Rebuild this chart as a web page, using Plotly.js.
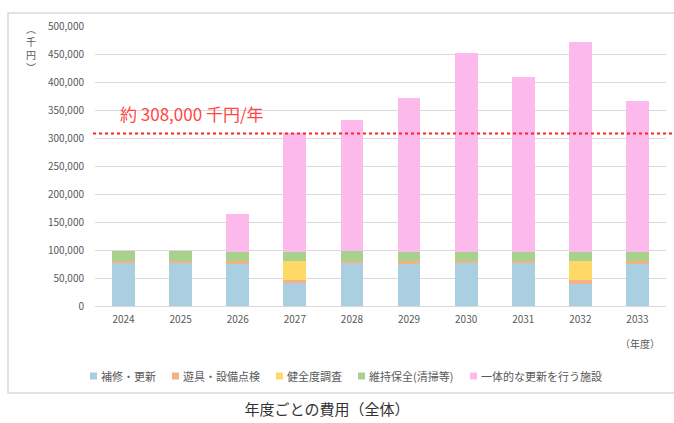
<!DOCTYPE html>
<html>
<head>
<meta charset="utf-8">
<script src="https://cdn.plot.ly/plotly-3.0.1.min.js"></script>
<style>html,body{margin:0;padding:0;background:#fff;}#chart{width:674px;height:423px;}</style>
</head>
<body>
<div id="chart"></div>
<script>
var years = ['2024','2025','2026','2027','2028','2029','2030','2031','2032','2033'];
var repair     = [76000, 76500, 75000, 40500, 76500, 74500, 76500, 76500, 40000, 74500];
var inspection = [4500, 4500, 5000, 6500, 4500, 5000, 4000, 4000, 6500, 5500];
var survey     = [0, 0, 0, 33500, 0, 0, 0, 0, 34000, 0];
var upkeep     = [17500, 17000, 17000, 16500, 17000, 17000, 16000, 16000, 16000, 17000];
var integrated = [0, 0, 68000, 212000, 235000, 274500, 354500, 312500, 374500, 268500];
var seriesNames = ['補修・更新', '遊具・設備点検', '健全度調査', '維持保全(清掃等)', '一体的な更新を行う施設'];
var averageValue = 308000;
var averageLabel = '約 308,000 千円/年';
var yTickVals = [0, 50000, 100000, 150000, 200000, 250000, 300000, 350000, 400000, 450000, 500000];

var colors = ['#a9cfe0', '#f4b183', '#ffd966', '#a9d18e', '#fcb9eb'];
var seriesData = [repair, inspection, survey, upkeep, integrated];

var FONT = '"Noto Sans CJK JP", "Noto Sans", sans-serif';
var traces = seriesData.map(function(vals, i) {
  return {
    type: 'bar', name: seriesNames[i], x: years, y: vals,
    marker: {color: colors[i], line: {width: 0}},
    hoverinfo: 'x+y+name'
  };
});

var L = 95, T = 26, W = 571, H = 280;
function px2x(p){ return (p - L) / W; }
function py2y(p){ return (T + H - p) / H; }

// legend entries (square marker + label), placed like the reference legend row
var legendX = [90, 172, 276, 358, 470];
var legendY = 376;
var shapes = [
  {type: 'rect', xref: 'paper', yref: 'paper', x0: px2x(8), x1: px2x(680), y0: py2y(393), y1: py2y(13),
   line: {color: '#d9d9d9', width: 1.5}, fillcolor: 'rgba(0,0,0,0)', layer: 'below'},
  {type: 'line', xref: 'paper', yref: 'y', x0: px2x(93), x1: px2x(674), y0: averageValue, y1: averageValue,
   line: {color: '#ff2020', width: 2, dash: 'dot'}}
];
var annotations = [
  {text: averageLabel, xref: 'paper', yref: 'paper', x: px2x(118), y: py2y(113), xanchor: 'left', yanchor: 'middle',
   showarrow: false, font: {family: FONT, size: 17, color: '#ff4646'}},
  {text: '︵<br>千<br>円<br>︶', xref: 'paper', yref: 'paper', x: px2x(31), y: py2y(48), xanchor: 'center', yanchor: 'middle',
   showarrow: false, font: {family: FONT, size: 10, color: '#595959'}},
  {text: '（年度）', xref: 'paper', yref: 'paper', x: px2x(662), y: py2y(343), xanchor: 'right', yanchor: 'middle',
   showarrow: false, font: {family: FONT, size: 10, color: '#595959'}}
];
seriesNames.forEach(function(name, i) {
  shapes.push({type: 'rect', xref: 'paper', yref: 'paper',
    x0: px2x(legendX[i]), x1: px2x(legendX[i] + 7), y0: py2y(legendY + 3.5), y1: py2y(legendY - 3.5),
    line: {width: 0}, fillcolor: colors[i]});
  annotations.push({text: name, xref: 'paper', yref: 'paper', x: px2x(legendX[i] + 9), y: py2y(legendY),
    xanchor: 'left', yanchor: 'middle', showarrow: false, font: {family: FONT, size: 11, color: '#595959'}});
});

var layout = {
  width: 674, height: 423,
  margin: {l: L, r: 674 - L - W, t: T, b: 423 - T - H, pad: 0},
  paper_bgcolor: '#ffffff', plot_bgcolor: '#ffffff',
  barmode: 'stack', bargap: 0.6,
  font: {family: FONT, color: '#595959', size: 10},
  title: {text: '年度ごとの費用（全体）', font: {family: FONT, size: 15, color: '#333333'},
          x: 327/674, xanchor: 'center', y: 1 - 410/423, yanchor: 'middle', xref: 'container', yref: 'container'},
  xaxis: {type: 'category', showgrid: false, zeroline: false, showline: false, ticks: '',
          tickfont: {family: FONT, size: 10, color: '#595959'}, ticklabelstandoff: 6, fixedrange: true},
  yaxis: {range: [0, 500000], tickvals: yTickVals, tickformat: ',d', showgrid: true, gridcolor: '#d9d9d9',
          gridwidth: 1, zeroline: true, zerolinecolor: '#d9d9d9', zerolinewidth: 1, showline: false, ticks: '',
          tickfont: {family: FONT, size: 10, color: '#595959'}, ticklabelstandoff: 10, fixedrange: true},
  showlegend: false,
  shapes: shapes,
  annotations: annotations
};

Plotly.newPlot('chart', traces, layout, {displayModeBar: false, staticPlot: true});
</script>
</body>
</html>
